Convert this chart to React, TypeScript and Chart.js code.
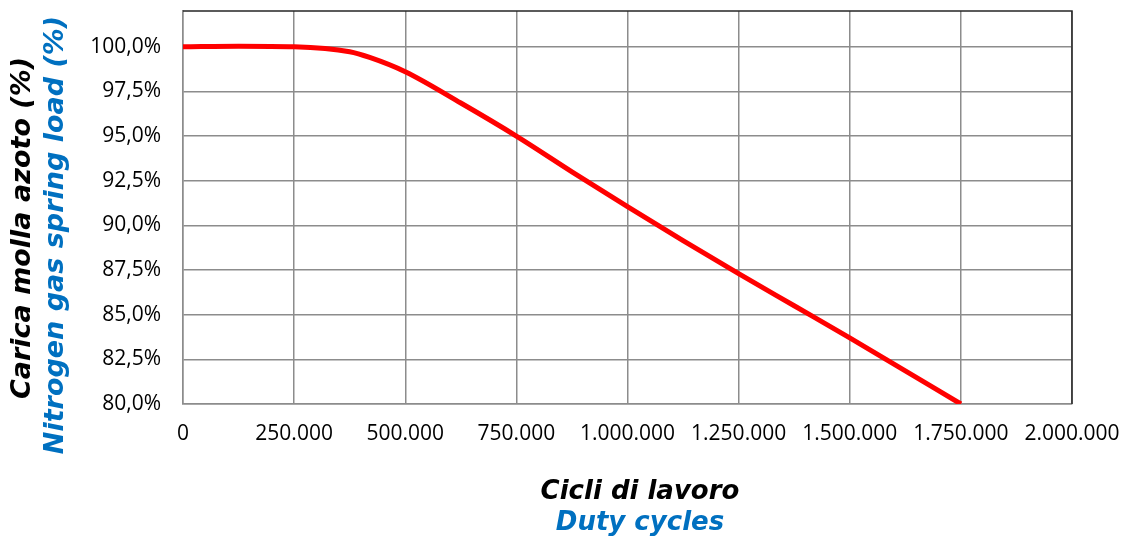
import React, { useEffect, useRef } from "react";
import { Chart, registerables } from "chart.js";

Chart.register(...registerables);

const cycles = [0, 125000, 250000, 375000, 420000, 500000, 625000, 750000, 875000, 1000000, 1125000, 1250000, 1375000, 1500000, 1625000, 1750000];
const load = [100.0, 100.03, 100.0, 99.72, 99.4, 98.6, 96.85, 95.0, 93.0, 91.05, 89.15, 87.3, 85.5, 83.7, 81.85, 80.0];

const xTitle = ["Cicli di lavoro", "Duty cycles"];
const yTitle = ["Carica molla azoto (%)", "Nitrogen gas spring load (%)"];
const titleColors = ["#000000", "#0070C0"];

const fmtThousands = (v: number) =>
  String(Math.round(v)).replace(/\B(?=(\d{3})+(?!\d))/g, ".");

const frameAndTitles = {
  id: "frameAndTitles",
  afterDraw(chart: any) {
    const { ctx, chartArea } = chart;
    const { left, right, top, bottom } = chartArea;
    ctx.save();
    ctx.strokeStyle = "#262626";
    ctx.lineWidth = 1.5;
    ctx.beginPath();
    ctx.moveTo(left, top);
    ctx.lineTo(right, top);
    ctx.lineTo(right, bottom);
    ctx.stroke();

    ctx.textAlign = "center";
    ctx.textBaseline = "middle";
    ctx.font = "italic bold 26px 'DejaVu Sans'";
    const cx = 640;
    ctx.fillStyle = titleColors[0];
    ctx.fillText(xTitle[0], cx, 492);
    ctx.fillStyle = titleColors[1];
    ctx.fillText(xTitle[1], cx, 523);

    ctx.font = "italic bold 27px 'DejaVu Sans'";
    ctx.save();
    ctx.translate(23, 228);
    ctx.rotate(-Math.PI / 2);
    ctx.fillStyle = titleColors[0];
    ctx.fillText(yTitle[0], 0, 0);
    ctx.restore();
    ctx.save();
    ctx.translate(56, 235);
    ctx.rotate(-Math.PI / 2);
    ctx.fillStyle = titleColors[1];
    ctx.fillText(yTitle[1], 0, 0);
    ctx.restore();
    ctx.restore();
  },
};

export default function App() {
  const ref = useRef<HTMLCanvasElement>(null);
  useEffect(() => {
    document.body.style.margin = "0";
    const chart = new Chart(ref.current!, {
      type: "line",
      data: {
        datasets: [
          {
            data: cycles.map((c, i) => ({ x: c, y: load[i] })),
            borderColor: "#FF0000",
            borderWidth: 5,
            pointRadius: 0,
            cubicInterpolationMode: "monotone",
            fill: false,
          },
        ],
      },
      options: {
        responsive: false,
        animation: false,
        layout: { padding: { top: 11, right: 57, left: 0, bottom: 0 } },
        plugins: { legend: { display: false }, tooltip: { enabled: false } },
        scales: {
          x: {
            type: "linear",
            min: 0,
            max: 2000000,
            afterFit: (s: any) => {
              s.height = 541 - 404;
              s.paddingLeft = 0;
              s.paddingRight = 0;
            },
            ticks: {
              stepSize: 250000,
              padding: 17,
              color: "#000",
              font: { family: "'Open Sans'", size: 21 },
              maxRotation: 0,
              autoSkip: false,
              callback: (v: any) => fmtThousands(Number(v)),
            },
            grid: { color: "#8c8c8c", lineWidth: 1.5, drawTicks: false },
            border: { color: "#8c8c8c", width: 1.5 },
          },
          y: {
            type: "linear",
            min: 80,
            max: 102,
            afterFit: (s: any) => {
              s.width = 183;
              s.paddingTop = 0;
              s.paddingBottom = 0;
            },
            afterBuildTicks: (s: any) => {
              s.ticks = s.ticks.filter((t: any) => Math.abs(t.value / 2.5 - Math.round(t.value / 2.5)) < 1e-6);
            },
            ticks: {
              stepSize: 2.5,
              padding: 22,
              color: "#000",
              font: { family: "'Open Sans'", size: 21 },
              autoSkip: false,
              callback: (v: any) => Number(v).toFixed(1).replace(".", ",") + "%",
            },
            grid: { color: "#8c8c8c", lineWidth: 1.5, drawTicks: false },
            border: { color: "#8c8c8c", width: 1.5 },
          },
        },
      },
      plugins: [frameAndTitles],
    });
    return () => chart.destroy();
  }, []);
  return (
    <div style={{ width: 1129, height: 541, background: "#fff" }}>
      <canvas ref={ref} width={1129} height={541} />
    </div>
  );
}
